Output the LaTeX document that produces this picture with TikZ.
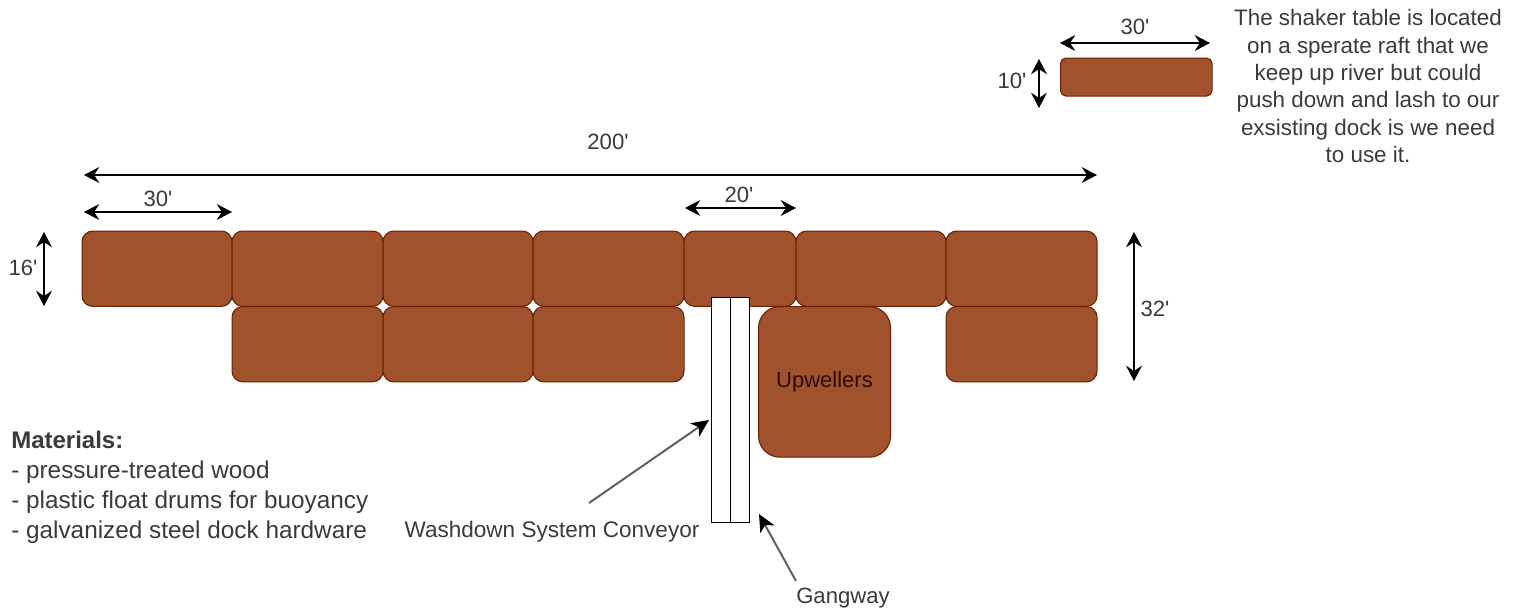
\documentclass[tikz,border=0pt]{standalone}
\usepackage{fontspec}
\newfontfamily\plainfont{Liberation Sans}
\usetikzlibrary{arrows.meta}
\definecolor{raftfill}{HTML}{A0522D}
\definecolor{raftline}{HTML}{6D1F00}
\definecolor{inktext}{HTML}{3A3A3A}
\definecolor{pointer}{HTML}{606060}
\tikzset{
  x=0.75pt,y=-0.75pt,
  raft/.style={draw=raftline,fill=raftfill,line width=0.8pt,rounded corners=8pt,minimum width=#1*0.75pt,minimum height=56.5pt,inner sep=0pt,anchor=north west,font=\plainfont\fontsize{16.5}{20}\selectfont,text=black!60!raftline},
  raft/.default=150,
  dim/.style={line width=1.2pt,{Stealth[length=11.5pt,width=12pt,inset=4pt]}-{Stealth[length=11.5pt,width=12pt,inset=4pt]}},
  pointerline/.style={draw=pointer,line width=1.5pt,-{Stealth[length=13pt,width=12pt,inset=3.5pt,color=black]}},
  lbl/.style={text=inktext,font=\plainfont\fontsize{16.6}{20.5}\selectfont,inner sep=0pt},
  plank/.style={draw=black,fill=white,line width=0.9pt,inner sep=0pt,minimum width=14.25pt,minimum height=168.75pt,anchor=north west}
}
\begin{document}
\begin{tikzpicture}
\useasboundingbox (0,0) rectangle (1522,611);
% top row
\node[raft=150] (t1) at (81.5,230.5) {};
\node[raft=151] (t2) at (231.5,230.5) {};
\node[raft=150] (t3) at (382.5,230.5) {};
\node[raft=151] (t4) at (532.5,230.5) {};
\node[raft=112] (t5) at (683.5,230.5) {};
\node[raft=150] (t6) at (795.5,230.5) {};
\node[raft=151] (t7) at (945.5,230.5) {};
% bottom row
\node[raft=151] (b2) at (231.5,306) {};
\node[raft=150] (b3) at (382.5,306) {};
\node[raft=151] (b4) at (532.5,306) {};
\node[raft=151] (b7) at (945.5,306) {};
% upwellers
\node[raft=132,minimum height=113pt,rounded corners=16pt] (up) at (758,306) {Upwellers};
% shaker raft
\node[raft=151.5,minimum height=28.5pt,rounded corners=4pt] (sh) at (1060,57.5) {};
% conveyor and gangway
\node[plank] (conv) at (711,297) {};
\node[plank] (gang) at (730,297) {};
% dimension ends
\coordinate (a1) at (84,175); \coordinate (a2) at (1097,175);
\coordinate (c1) at (84,212); \coordinate (c2) at (232,212);
\coordinate (d1) at (685,208); \coordinate (d2) at (796,208);
\coordinate (e1) at (44,232); \coordinate (e2) at (44,306);
\coordinate (f1) at (1134,232); \coordinate (f2) at (1134,381);
\coordinate (g1) at (1060,43); \coordinate (g2) at (1210,43);
\coordinate (h1) at (1039,59); \coordinate (h2) at (1039,108);
\draw[dim] (a1) -- (a2);
\draw[dim] (c1) -- (c2);
\draw[dim] (d1) -- (d2);
\draw[dim] (e1) -- (e2);
\draw[dim] (f1) -- (f2);
\draw[dim] (g1) -- (g2);
\draw[dim] (h1) -- (h2);
% dimension labels
\node[lbl] (l200) at (608,142) {200'};
\node[lbl] (l30a) at (158,198.5) {30'};
\node[lbl] (l20) at (739,194.5) {20'};
\node[lbl] (l16) at (23,268) {16'};
\node[lbl] (l32) at (1155,309) {32'};
\node[lbl] (l30b) at (1135,27) {30'};
\node[lbl] (l10) at (1012,81) {10'};
% texts
\node[lbl,align=center,font=\plainfont\fontsize{16.8}{20.5}\selectfont] (note) at (1368,86) {The shaker table is located\\on a sperate raft that we\\keep up river but could\\push down and lash to our\\exsisting dock is we need\\to use it.};
\node[lbl,align=left,anchor=north west,font=\plainfont\fontsize{18.25}{22.5}\selectfont] (mat) at (11,431) {{\fontsize{18}{22.5}\selectfont\textbf{Materials:}}\\- pressure-treated wood\\- plastic float drums for buoyancy\\- galvanized steel dock hardware};
\node[lbl,font=\plainfont\fontsize{16.9}{20}\selectfont] (wash) at (552,532) {Washdown System Conveyor};
\node[lbl] (gw) at (843,598) {Gangway};
% pointers
\coordinate (p1s) at (589,503); \coordinate (p1e) at (709,420);
\coordinate (p2s) at (796,581); \coordinate (p2e) at (759,514);
\draw[pointerline] (p1s) -- (p1e);
\draw[pointerline] (p2s) -- (p2e);
\end{tikzpicture}
\end{document}
